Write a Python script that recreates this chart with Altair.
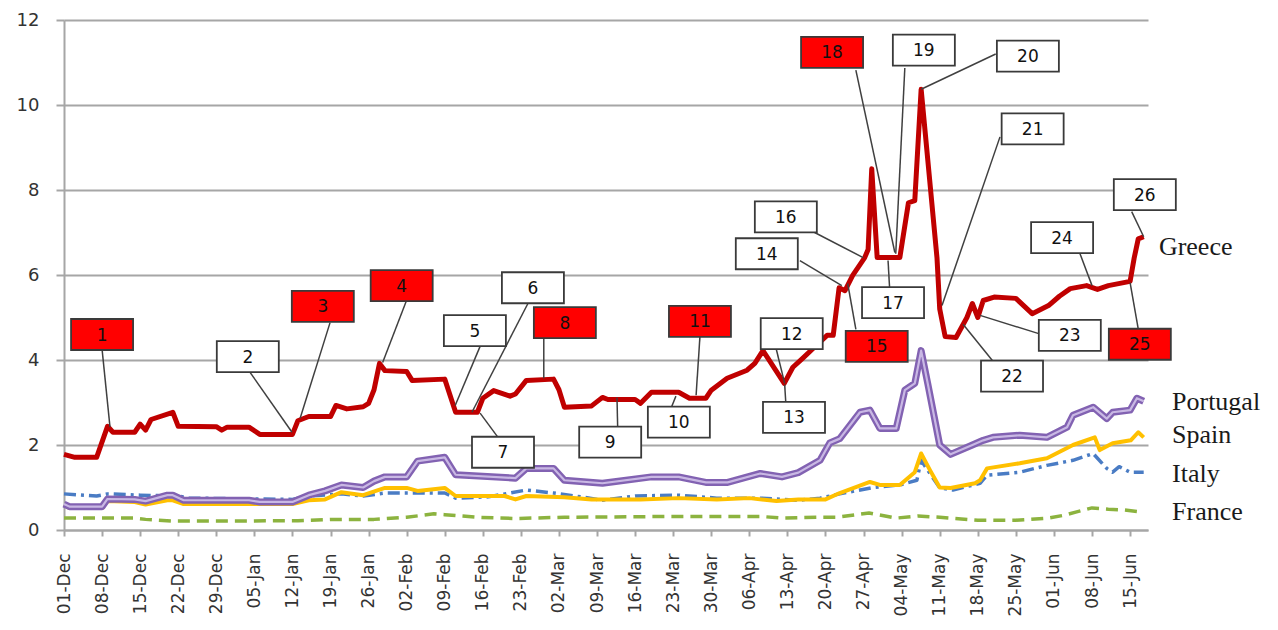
import altair as alt
import pandas as pd

# ---------------- series data (date, value) ----------------
greece = [
    ("2009-12-01", 1.78), ("2009-12-03", 1.71), ("2009-12-07", 1.71), ("2009-12-09", 2.44),
    ("2009-12-10", 2.30), ("2009-12-14", 2.30), ("2009-12-15", 2.49), ("2009-12-16", 2.35),
    ("2009-12-17", 2.60), ("2009-12-21", 2.77), ("2009-12-22", 2.44), ("2009-12-29", 2.43),
    ("2009-12-30", 2.35), ("2009-12-31", 2.42),
    ("2010-01-04", 2.42), ("2010-01-06", 2.25), ("2010-01-12", 2.25), ("2010-01-13", 2.57),
    ("2010-01-15", 2.67), ("2010-01-19", 2.67), ("2010-01-20", 2.93), ("2010-01-22", 2.85),
    ("2010-01-25", 2.90), ("2010-01-26", 2.98), ("2010-01-27", 3.30), ("2010-01-28", 3.92),
    ("2010-01-29", 3.75),
    ("2010-02-02", 3.73), ("2010-02-03", 3.52), ("2010-02-09", 3.55), ("2010-02-11", 2.77),
    ("2010-02-15", 2.77), ("2010-02-16", 3.10), ("2010-02-18", 3.28), ("2010-02-21", 3.15),
    ("2010-02-22", 3.20), ("2010-02-24", 3.52),
    ("2010-03-01", 3.55), ("2010-03-02", 3.30), ("2010-03-03", 2.89), ("2010-03-08", 2.92),
    ("2010-03-10", 3.12), ("2010-03-11", 3.07), ("2010-03-16", 3.07), ("2010-03-17", 2.98),
    ("2010-03-19", 3.24), ("2010-03-24", 3.24), ("2010-03-26", 3.10), ("2010-03-29", 3.10),
    ("2010-03-30", 3.29),
    ("2010-04-01T22:00", 3.57), ("2010-04-05T14:00", 3.76), ("2010-04-07", 3.92),
    ("2010-04-08T12:00", 4.22), ("2010-04-12T10:00", 3.45), ("2010-04-14", 3.83),
    ("2010-04-15T19:00", 4.04), ("2010-04-17T17:00", 4.27), ("2010-04-20T07:00", 4.58),
    ("2010-04-21T10:00", 4.58), ("2010-04-22T12:00", 5.70), ("2010-04-23T14:00", 5.63),
    ("2010-04-25", 5.99), ("2010-04-27T05:00", 6.41), ("2010-04-27T20:00", 6.60),
    ("2010-04-28T12:00", 8.50), ("2010-04-29T12:00", 6.41),
    ("2010-05-03T16:00", 6.41), ("2010-05-05T06:00", 7.70), ("2010-05-06T10:00", 7.75),
    ("2010-05-07T14:00", 10.37), ("2010-05-10T12:00", 6.40), ("2010-05-11", 5.20),
    ("2010-05-12", 4.55), ("2010-05-14", 4.53), ("2010-05-16", 5.00), ("2010-05-17", 5.33),
    ("2010-05-18", 5.00), ("2010-05-19", 5.40), ("2010-05-21", 5.48), ("2010-05-25", 5.45),
    ("2010-05-28", 5.09), ("2010-05-31", 5.28),
    ("2010-06-02", 5.50), ("2010-06-04", 5.68), ("2010-06-07", 5.75), ("2010-06-09", 5.66),
    ("2010-06-11", 5.75), ("2010-06-15", 5.85), ("2010-06-15T18:00", 6.40),
    ("2010-06-16T12:00", 6.85), ("2010-06-17T12:00", 6.90),
]

portugal = [
    ("2009-12-01", 0.61), ("2009-12-02", 0.55), ("2009-12-08", 0.55), ("2009-12-09", 0.73),
    ("2009-12-14", 0.72), ("2009-12-16", 0.68), ("2009-12-20", 0.82), ("2009-12-21", 0.82),
    ("2009-12-23", 0.70), ("2010-01-04", 0.70), ("2010-01-06", 0.66), ("2010-01-12", 0.66),
    ("2010-01-15", 0.82), ("2010-01-18", 0.92), ("2010-01-21", 1.06), ("2010-01-25", 1.00),
    ("2010-01-27", 1.15), ("2010-01-29", 1.25), ("2010-02-02", 1.25), ("2010-02-04", 1.62),
    ("2010-02-09", 1.71), ("2010-02-11", 1.30), ("2010-02-22", 1.22), ("2010-02-24", 1.45),
    ("2010-03-01", 1.45), ("2010-03-03", 1.17), ("2010-03-10", 1.10), ("2010-03-19", 1.25),
    ("2010-03-24", 1.25), ("2010-03-29", 1.12), ("2010-04-02", 1.12), ("2010-04-08", 1.33),
    ("2010-04-12", 1.25), ("2010-04-15", 1.35), ("2010-04-19", 1.64), ("2010-04-20T19:00", 2.05),
    ("2010-04-22T15:00", 2.15), ("2010-04-26T08:00", 2.77), ("2010-04-28T04:00", 2.82),
    ("2010-04-30", 2.39), ("2010-05-03", 2.39), ("2010-05-04T14:00", 3.29),
    ("2010-05-06T10:00", 3.45), ("2010-05-07T14:00", 4.22), ("2010-05-08T19:00", 3.45),
    ("2010-05-11", 2.00), ("2010-05-13", 1.78), ("2010-05-17", 2.00), ("2010-05-19", 2.11),
    ("2010-05-20T19:00", 2.18), ("2010-05-25T17:00", 2.23), ("2010-05-30T17:00", 2.18),
    ("2010-06-03T10:00", 2.42), ("2010-06-04T12:00", 2.70), ("2010-06-08T05:00", 2.89),
    ("2010-06-10T17:00", 2.62), ("2010-06-11T19:00", 2.77), ("2010-06-15", 2.82),
    ("2010-06-16T06:00", 3.10), ("2010-06-17T12:00", 3.03),
]

spain = [
    ("2009-12-01", 0.59), ("2009-12-02", 0.52), ("2009-12-08", 0.52), ("2009-12-09", 0.68),
    ("2009-12-14", 0.66), ("2009-12-16", 0.60), ("2009-12-20", 0.70), ("2009-12-21", 0.70),
    ("2009-12-23", 0.61), ("2010-01-12", 0.61), ("2010-01-15", 0.70), ("2010-01-18", 0.72),
    ("2010-01-21", 0.89), ("2010-01-25", 0.82), ("2010-01-29", 0.99), ("2010-02-02", 0.99),
    ("2010-02-04", 0.92), ("2010-02-09", 0.99), ("2010-02-11", 0.80), ("2010-02-20", 0.80),
    ("2010-02-22", 0.72), ("2010-02-24", 0.80), ("2010-03-03", 0.77), ("2010-03-08", 0.72),
    ("2010-03-17", 0.72), ("2010-03-24", 0.75), ("2010-03-31", 0.72), ("2010-04-06", 0.75),
    ("2010-04-11", 0.68), ("2010-04-15", 0.72), ("2010-04-20", 0.72), ("2010-04-22T15:00", 0.87),
    ("2010-04-28T04:00", 1.13), ("2010-04-30", 1.06), ("2010-05-03T16:00", 1.06),
    ("2010-05-06T10:00", 1.36), ("2010-05-07T14:00", 1.80), ("2010-05-09T05:00", 1.41),
    ("2010-05-11", 1.00), ("2010-05-13", 0.99), ("2010-05-17T12:00", 1.10),
    ("2010-05-18T10:00", 1.17), ("2010-05-19T17:00", 1.45), ("2010-05-25T17:00", 1.57),
    ("2010-05-30T17:00", 1.69), ("2010-06-04T12:00", 2.00), ("2010-06-08T12:00", 2.18),
    ("2010-06-09T10:00", 1.88), ("2010-06-11T19:00", 2.04), ("2010-06-15T03:00", 2.11),
    ("2010-06-16T12:00", 2.30), ("2010-06-17T12:00", 2.18),
]

italy = [
    ("2009-12-01", 0.85), ("2009-12-07", 0.80), ("2009-12-09", 0.85), ("2009-12-15", 0.82),
    ("2009-12-22", 0.80), ("2009-12-24", 0.75), ("2010-01-12", 0.72), ("2010-01-15", 0.80),
    ("2010-01-21", 0.85), ("2010-01-25", 0.80), ("2010-01-29", 0.87), ("2010-02-09", 0.87),
    ("2010-02-11", 0.75), ("2010-02-17", 0.78), ("2010-02-24", 0.94), ("2010-03-01", 0.87),
    ("2010-03-05", 0.80), ("2010-03-10", 0.70), ("2010-03-16", 0.80), ("2010-03-24", 0.82),
    ("2010-03-31", 0.75), ("2010-04-08", 0.75), ("2010-04-15", 0.70), ("2010-04-19", 0.75),
    ("2010-04-22T15:00", 0.85), ("2010-04-28T17:00", 1.00), ("2010-05-03T16:00", 1.06),
    ("2010-05-06T19:00", 1.17), ("2010-05-07T14:00", 1.64), ("2010-05-09T05:00", 1.33),
    ("2010-05-11", 0.99), ("2010-05-13T10:00", 0.94), ("2010-05-18T10:00", 1.10),
    ("2010-05-19T17:00", 1.29), ("2010-05-25T17:00", 1.36), ("2010-05-30T17:00", 1.52),
    ("2010-06-04T12:00", 1.64), ("2010-06-08T05:00", 1.80), ("2010-06-10T17:00", 1.45),
    ("2010-06-11T19:00", 1.36), ("2010-06-13", 1.49), ("2010-06-15", 1.36),
    ("2010-06-17T12:00", 1.36),
]

france = [
    ("2009-12-01", 0.28), ("2009-12-14", 0.28), ("2009-12-16", 0.25), ("2009-12-21", 0.21),
    ("2010-01-04", 0.21), ("2010-01-07", 0.22), ("2010-01-13", 0.22), ("2010-01-19", 0.25),
    ("2010-01-27", 0.25), ("2010-02-02", 0.30), ("2010-02-07", 0.38), ("2010-02-09", 0.36),
    ("2010-02-15", 0.30), ("2010-02-22", 0.27), ("2010-03-03", 0.30), ("2010-03-24", 0.32),
    ("2010-04-08", 0.32), ("2010-04-12", 0.28), ("2010-04-19", 0.30), ("2010-04-22", 0.30),
    ("2010-04-28", 0.40), ("2010-05-03", 0.28), ("2010-05-07", 0.33), ("2010-05-11", 0.30),
    ("2010-05-18", 0.23), ("2010-05-25", 0.23), ("2010-05-31", 0.28), ("2010-06-03", 0.35),
    ("2010-06-05", 0.42), ("2010-06-08", 0.52), ("2010-06-11", 0.49), ("2010-06-14", 0.47),
    ("2010-06-17T12:00", 0.42),
]

# ---------------- axis ticks ----------------
tick_dates = [
    "2009-12-01", "2009-12-08", "2009-12-15", "2009-12-22", "2009-12-29",
    "2010-01-05", "2010-01-12", "2010-01-19", "2010-01-26",
    "2010-02-02", "2010-02-09", "2010-02-16", "2010-02-23",
    "2010-03-02", "2010-03-09", "2010-03-16", "2010-03-23", "2010-03-30",
    "2010-04-06", "2010-04-13", "2010-04-20", "2010-04-27",
    "2010-05-04", "2010-05-11", "2010-05-18", "2010-05-25",
    "2010-06-01", "2010-06-08", "2010-06-15",
]
y_ticks = [0, 2, 4, 6, 8, 10, 12]

# ---------------- annotation boxes ----------------
box_numbers = list(range(1, 27))
box_red = [1, 3, 4, 8, 11, 15, 18, 25]
box_dates = [
    "2009-12-08", "2010-01-03T19:00", "2010-01-17T14:00", "2010-02-01T02:00",
    "2010-02-14T13:00", "2010-02-25T05:00", "2010-02-19T17:00", "2010-03-03T02:00",
    "2010-03-11T10:00", "2010-03-24T01:00", "2010-03-27T22:00", "2010-04-13T19:00",
    "2010-04-14T05:00", "2010-04-09T05:00", "2010-04-29T10:00", "2010-04-12T17:00",
    "2010-05-02T10:00", "2010-04-21T05:00", "2010-05-08T02:00", "2010-05-27T05:00",
    "2010-05-28T02:00", "2010-05-24T07:00", "2010-06-03T22:00", "2010-06-02T12:00",
    "2010-06-16T19:00", "2010-06-17T17:00",
]
box_values = [4.60, 4.08, 5.26, 5.75, 4.69, 5.70, 1.83, 4.88, 2.07, 2.54, 4.91, 4.62, 2.65,
              6.50, 4.32, 7.37, 5.35, 11.24, 11.29, 11.15, 9.44, 3.62, 4.58, 6.88, 4.37, 7.89]
line_from_dates = [
    "2009-12-08", "2010-01-04T05:00", "2010-01-18T22:00", "2010-02-01T22:00",
    "2010-02-15T12:00", "2010-02-24T07:00", "2010-02-18T19:00", "2010-02-27T05:00",
    "2010-03-12T19:00", "2010-03-22T14:00", "2010-03-27T22:00", "2010-04-10T22:00",
    "2010-04-12T17:00", "2010-04-15T07:00", "2010-04-25T14:00", "2010-04-18",
    "2010-05-01T19:00", "2010-04-25T14:00", "2010-05-04T14:00", "2010-05-21T07:00",
    "2010-05-22T02:00", "2010-05-20T19:00", "2010-05-29T05:00", "2010-06-05T19:00",
    "2010-06-16T14:00", "2010-06-15T07:00",
]
line_from_values = [4.25, 3.71, 4.88, 5.38, 4.32, 5.33, 2.18, 4.53, 2.42, 2.86, 4.55, 4.27, 2.98,
                    6.34, 4.72, 7.00, 5.68, 10.82, 10.87, 11.20, 9.25, 3.97, 4.62, 6.50, 4.67, 7.49]
anchor_dates = [
    "2009-12-09T11:00", "2010-01-11T22:00", "2010-01-13T10:00", "2010-01-28T14:00",
    "2010-02-10T22:00", "2010-02-14", "2010-02-15T12:00", "2010-02-27T05:00",
    "2010-03-12T16:00", "2010-03-23T12:00", "2010-03-27T05:00", "2010-04-12T12:00",
    "2010-04-12T12:00", "2010-04-23", "2010-04-24T02:00", "2010-04-26T22:00",
    "2010-05-01T12:00", "2010-05-02T18:00", "2010-05-02T22:00", "2010-05-07T14:00",
    "2010-05-11T10:00", "2010-05-15T07:00", "2010-05-18T10:00", "2010-06-08",
    "2010-06-15", "2010-06-17T12:00",
]
anchor_values = [2.42, 2.30, 2.63, 3.94, 2.93, 2.77, 2.75, 3.57, 3.12, 3.15, 3.17, 3.45, 3.42,
                 5.75, 5.80, 6.41, 6.34, 6.53, 6.50, 10.37, 5.28, 4.84, 5.05, 5.75, 5.82, 6.90]

# ---------------- series end labels ----------------
series_labels = ["Greece", "Portugal", "Spain", "Italy", "France"]
label_dates = ["2010-06-20T07:00", "2010-06-22T17:00", "2010-06-22T17:00",
               "2010-06-22T17:00", "2010-06-22T17:00"]
label_values = [6.48, 2.82, 2.04, 1.13, 0.23]


def to_dt(strings):
    return pd.to_datetime(list(strings), format="ISO8601")


def frame(pairs):
    return pd.DataFrame({"date": to_dt(p[0] for p in pairs),
                         "value": [p[1] for p in pairs]})


def dt(s):
    y, m, d = s.split("-")
    return alt.DateTime(year=int(y), month=int(m), date=int(d))


x_scale = alt.Scale(domain=[alt.DateTime(year=2009, month=12, date=1),
                            alt.DateTime(year=2010, month=6, date=18, hours=7)], nice=False)
y_scale = alt.Scale(domain=[0, 12], nice=False)

GRID = "#a6a6a6"
x_axis = alt.Axis(values=[dt(s) for s in tick_dates], format="%d-%b", labelAngle=270,
                  grid=False, domainColor=GRID, domainWidth=2, tickColor=GRID, tickWidth=2,
                  tickSize=6, labelPadding=17, labelFont="DejaVu Sans", labelFontSize=17,
                  labelColor="#333333", labelOverlap=False, labelFlush=False)
y_axis = alt.Axis(values=y_ticks, grid=True, gridColor=GRID, gridWidth=2, domainColor=GRID,
                  domainWidth=2, tickColor=GRID, tickWidth=2, tickSize=8, labelPadding=17,
                  labelFont="DejaVu Sans", labelFontSize=18, labelColor="#333333")


def X(field="date"):
    return alt.X(f"{field}:T", scale=x_scale, axis=x_axis, title=None)


def Y(field="value"):
    return alt.Y(f"{field}:Q", scale=y_scale, axis=y_axis, title=None)


def line(pairs, color, width, dash=None):
    kw = dict(color=color, strokeWidth=width, interpolate="linear", strokeJoin="round")
    if dash:
        kw["strokeDash"] = dash
    return alt.Chart(frame(pairs)).mark_line(**kw).encode(x=X(), y=Y())


layers = [
    line(france, "#8cb33f", 3.5, [12, 7]),
    line(italy, "#4a7cc4", 3.5, [12, 5, 3, 5]),
    line(spain, "#ffc000", 4),
    line(portugal, "#8262b2", 7),
    line(portugal, "#c9b8e4", 2.2),
    line(greece, "#c00000", 5),
]

leader_df = pd.DataFrame({
    "date": to_dt(line_from_dates), "value": line_from_values,
    "date2": to_dt(anchor_dates), "value2": anchor_values,
})
layers.append(alt.Chart(leader_df).mark_rule(color="#404040", strokeWidth=1.5).encode(
    x=X(), y=Y(), x2="date2:T", y2="value2:Q"))

box_df = pd.DataFrame({
    "date": to_dt(box_dates), "value": box_values,
    "label": [str(n) for n in box_numbers],
    "fill": ["#ff0000" if n in box_red else "#ffffff" for n in box_numbers],
})
layers.append(alt.Chart(box_df).mark_point(
    shape="M-1,-0.5H1V0.5H-1Z", size=62 * 62, filled=True, opacity=1,
    stroke="#3a3a3a", strokeWidth=1.8).encode(
    x=X(), y=Y(), fill=alt.Fill("fill:N", scale=None)))
layers.append(alt.Chart(box_df).mark_text(
    font="DejaVu Sans", fontSize=17, color="#111111", align="center", baseline="middle",
    dy=1).encode(x=X(), y=Y(), text="label:N"))

label_df = pd.DataFrame({"date": to_dt(label_dates), "value": label_values,
                         "label": series_labels})
layers.append(alt.Chart(label_df).mark_text(
    font="Liberation Serif", fontSize=26, color="#1a1a1a", align="left",
    baseline="alphabetic").encode(x=X(), y=Y(), text="label:N"))

chart = alt.layer(*layers).properties(
    width=1084, height=510,
    autosize=alt.AutoSizeParams(type="none"),
    padding={"left": 56, "top": 12, "right": 122, "bottom": 92},
    background="white",
).configure_view(stroke=None)

chart.save("out.html", embed_options={"renderer": "svg", "actions": False})
